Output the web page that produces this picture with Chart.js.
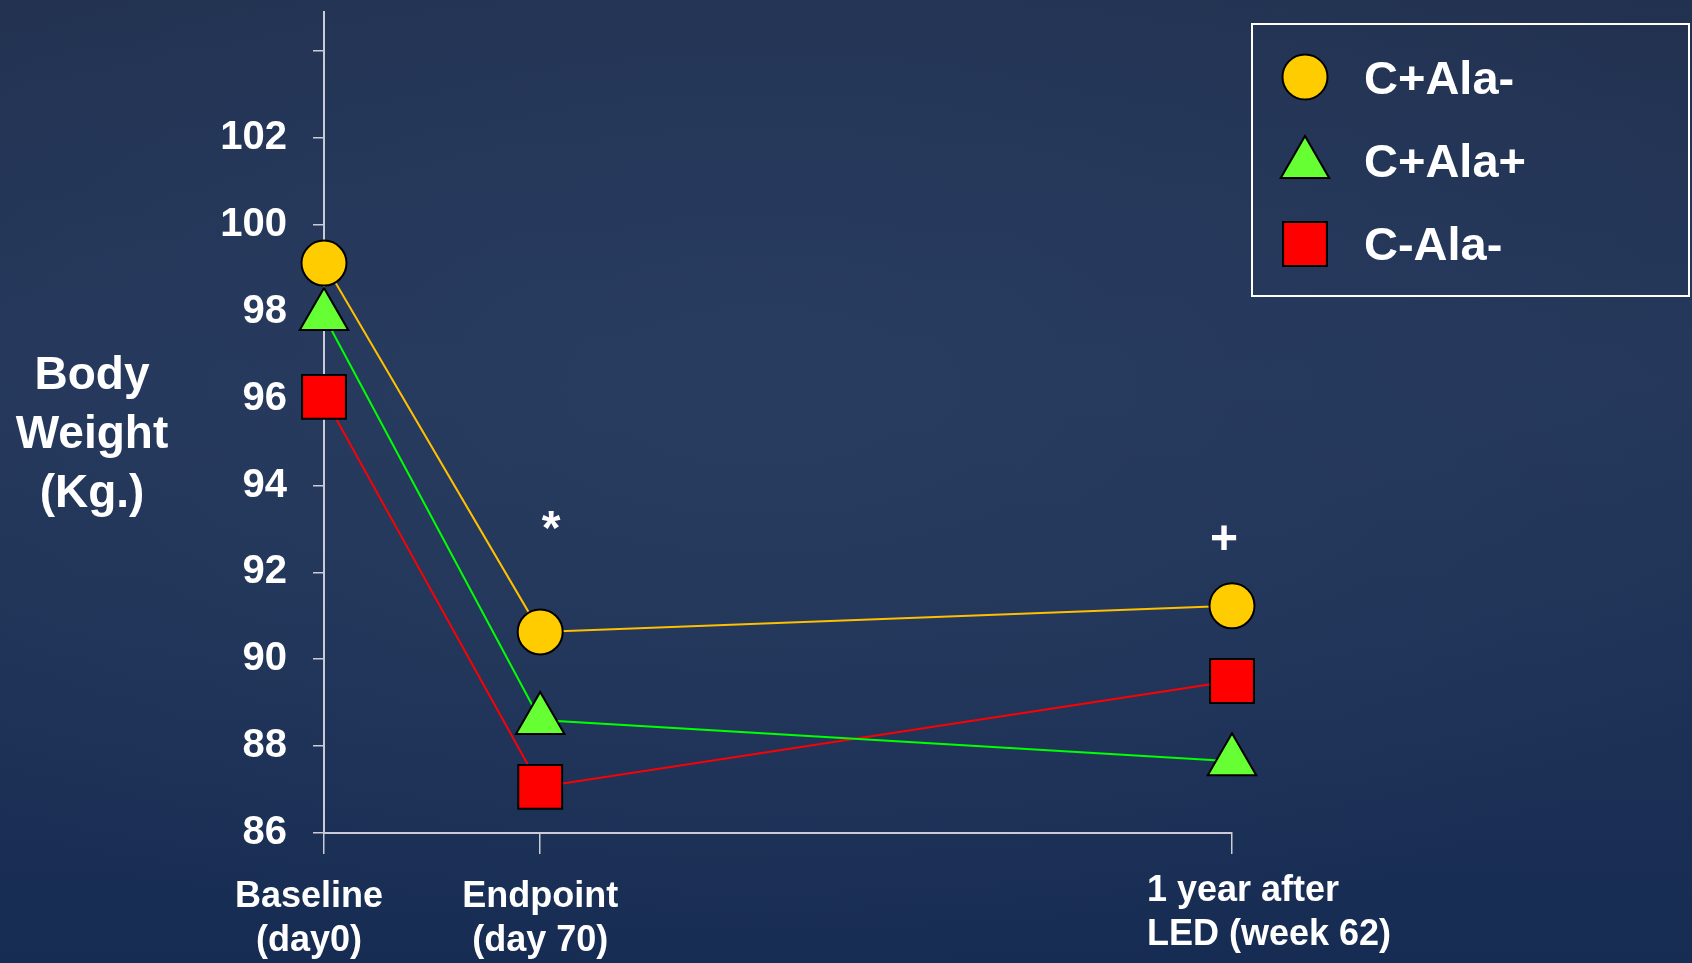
<!DOCTYPE html>
<html>
<head>
<meta charset="utf-8">
<title>Body weight</title>
<script src="https://cdn.jsdelivr.net/npm/chart.js@4.4.1/dist/chart.umd.min.js"></script>
<style>
  html, body { margin: 0; padding: 0; }
  body {
    width: 1692px; height: 963px; overflow: hidden;
    background: radial-gradient(ellipse 70% 60% at 45% 40%, #283c60 0%, rgba(40,60,96,0) 100%),
                linear-gradient(to bottom, #22314f 0%, #24375a 40%, #172c53 100%);
  }
  #wrap { position: relative; width: 1692px; height: 963px; }
</style>
</head>
<body>
<div id="wrap"><canvas id="weightChart"></canvas></div>
<script>
// time points and where they sit along the horizontal axis
const timeLabels = [['Baseline', '(day0)'], ['Endpoint', '(day 70)'], ['1 year after', 'LED (week 62)']];
const timePositions = [0, 1, 4.2];

// mean body weight (kg) per group
const seriesNames = ['C+Ala-', 'C+Ala+', 'C-Ala-'];
const cPlusAlaMinus = [99.12, 90.63, 91.23];
const cPlusAlaPlus = [97.9, 88.6, 87.65];
const cMinusAlaMinus = [96.04, 87.06, 89.5];

// y axis ticks, only the lower ones carry a label
const yTicks = [86, 88, 90, 92, 94, 96, 98, 100, 102, 104];
const yLabelled = [86, 88, 90, 92, 94, 96, 98, 100, 102];

// significance marks above the groups
const noteTexts = ['*', '+'];
const noteTimes = [1, 2];
const noteValues = [93.2, 92.8];

const FONT = '"Liberation Sans", Arial, sans-serif';

function series(values) {
    return values.map((v, i) => ({ x: timePositions[i], y: v }));
}

const datasets = [
    {
        label: seriesNames[0],
        data: series(cPlusAlaMinus),
        borderColor: '#ffc000',
        backgroundColor: '#ffcc00',
        pointStyle: 'circle',
        pointRadius: 22.5,
    },
    {
        label: seriesNames[1],
        data: series(cPlusAlaPlus),
        borderColor: '#00ff00',
        backgroundColor: '#66ff33',
        pointStyle: 'triangle',
        pointRadius: 28,
    },
    {
        label: seriesNames[2],
        data: series(cMinusAlaMinus),
        borderColor: '#ff0000',
        backgroundColor: '#ff0000',
        pointStyle: 'rect',
        pointRadius: 31,
    },
];

datasets.forEach(ds => {
    ds.borderWidth = 2;
    ds.pointBorderColor = '#000000';
    ds.pointBorderWidth = 2;
    ds.pointHoverRadius = ds.pointRadius;
    ds.fill = false;
    ds.tension = 0;
    ds.clip = false;
});

// keep the plot box exactly where the layout padding puts it
function noEdgePadding(scale) {
    scale.paddingTop = 0;
    scale.paddingBottom = 0;
    scale.paddingLeft = 0;
    scale.paddingRight = 0;
}

// x labels, horizontal y title, legend box and significance marks
const extras = {
    id: 'extras',
    afterDraw(chart) {
        const ctx = chart.ctx;
        const xs = chart.scales.x, ys = chart.scales.y;
        ctx.save();
        ctx.fillStyle = '#ffffff';
        ctx.textBaseline = 'alphabetic';

        // time point labels; the last one is left aligned like a text block
        ctx.font = 'bold 36px ' + FONT;
        timeLabels.forEach((lines, i) => {
            const px = xs.getPixelForValue(timePositions[i]);
            const last = i === timeLabels.length - 1;
            ctx.textAlign = last ? 'left' : 'center';
            const x = last ? px - 85 : (i === 0 ? px - 15 : px);
            const y0 = last ? 901 : 907;
            lines.forEach((t, j) => ctx.fillText(t, x, y0 + j * 44));
        });

        ctx.textAlign = 'center';
        ctx.font = 'bold 46px ' + FONT;
        ['Body', 'Weight', '(Kg.)'].forEach((t, i) => ctx.fillText(t, 92, 389 + i * 59));

        noteTexts.forEach((t, i) => {
            ctx.font = 'bold 48px ' + FONT;
            const m = ctx.measureText(t);
            const cx = xs.getPixelForValue(timePositions[noteTimes[i]]) + (t === '*' ? 11 : -8);
            const cy = ys.getPixelForValue(noteValues[i]);
            ctx.fillText(t, cx, cy + (m.actualBoundingBoxAscent - m.actualBoundingBoxDescent) / 2);
        });

        // legend
        ctx.strokeStyle = '#ffffff';
        ctx.lineWidth = 2;
        ctx.strokeRect(1252, 24, 437, 272);
        ctx.textAlign = 'left';
        ctx.font = 'bold 47px ' + FONT;
        const markY = [77, 164, 244];
        chart.data.datasets.forEach((ds, i) => {
            ctx.fillStyle = ds.backgroundColor;
            ctx.strokeStyle = ds.pointBorderColor;
            ctx.lineWidth = ds.pointBorderWidth;
            Chart.helpers.drawPoint(ctx, { pointStyle: ds.pointStyle, radius: ds.pointRadius, rotation: 0, borderWidth: 2 }, 1305, markY[i]);
            ctx.fillStyle = '#ffffff';
            ctx.fillText(ds.label, 1364, 94 + i * 83);
        });
        ctx.restore();
    }
};

const chart = new Chart(document.getElementById('weightChart'), {
    type: 'line',
    data: { datasets: datasets },
    options: {
        responsive: true,
        maintainAspectRatio: false,
        animation: false,
        layout: { autoPadding: false, padding: { left: 0, top: 12, right: 460, bottom: 0 } },
        plugins: {
            legend: { display: false },
            tooltip: { enabled: false },
        },
        scales: {
            x: {
                type: 'linear',
                min: timePositions[0],
                max: timePositions[timePositions.length - 1],
                afterBuildTicks: scale => { scale.ticks = timePositions.map(v => ({ value: v })); },
                afterFit: scale => { scale.height = 130; noEdgePadding(scale); },
                grid: { display: true, drawOnChartArea: false, drawTicks: true, tickLength: 21, color: '#c9ccd6', lineWidth: 1.5 },
                border: { display: true, color: '#c9ccd6', width: 2 },
                ticks: { display: false },
            },
            y: {
                type: 'linear',
                min: 86,
                max: 104.9,
                afterBuildTicks: scale => { scale.ticks = yTicks.map(v => ({ value: v })); },
                afterFit: scale => { scale.width = 324; noEdgePadding(scale); },
                grid: { display: true, drawOnChartArea: false, drawTicks: true, tickLength: 11, color: '#c9ccd6', lineWidth: 1.5 },
                border: { display: true, color: '#c9ccd6', width: 2 },
                ticks: {
                    color: '#ffffff',
                    font: { family: FONT, size: 40, weight: 'bold' },
                    padding: 26,
                    callback: value => yLabelled.includes(value) ? String(value) : '',
                },
            },
        },
    },
    plugins: [extras],
});
</script>
</body>
</html>
